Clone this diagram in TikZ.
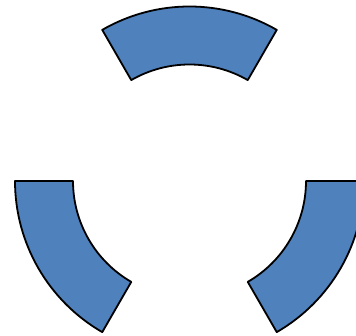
\documentclass[tikz,border=0pt]{standalone}
\usepackage{tikz}
\usetikzlibrary{calc}
\definecolor{segblue}{HTML}{4F81BD}

\begin{document}
\begin{tikzpicture}[
  x=1pt, y=1pt,
  segment/.style={
    fill=segblue, draw=black, line width=1.8pt, line join=round
  }
]

% Canvas
\useasboundingbox (0,0) rectangle (356,336);
\clip (0,0) rectangle (356,336);

% Centre of the ring
\coordinate (c) at (189.5,155);

% Ring segments
\foreach \start in {60,180,300} {
  \draw[segment]
    ($(c)+(\start:116.5)$) -- ($(c)+(\start:174.5)$)
    arc[start angle=\start, end angle=\start+60, radius=174.5]
    -- ($(c)+(\start+60:116.5)$)
    arc[start angle=\start+60, end angle=\start, radius=116.5] -- cycle;
}

\end{tikzpicture}
\end{document}
